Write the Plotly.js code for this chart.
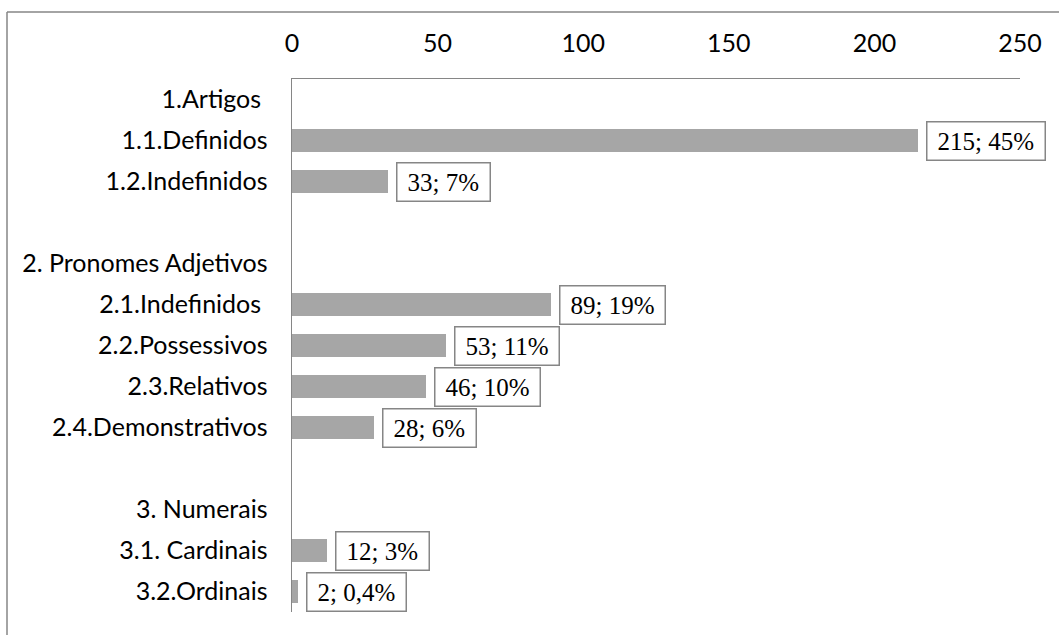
<!DOCTYPE html>
<html>
<head>
<meta charset="utf-8">
<script src="https://cdn.plot.ly/plotly-3.0.1.min.js"></script>
<style>
  html, body { margin: 0; padding: 0; background: #fff; }
  #chart { width: 1059px; height: 635px; }
</style>
</head>
<body>
<div id="chart"></div>
<script>
// Row labels, top to bottom (blank rows separate the groups)
const categories = [
  "1.Artigos\u00a0",
  "1.1.Definidos",
  "1.2.Indefinidos",
  "",
  "2. Pronomes Adjetivos",
  "2.1.Indefinidos\u00a0",
  "2.2.Possessivos",
  "2.3.Relativos",
  "2.4.Demonstrativos",
  "",
  "3. Numerais",
  "3.1. Cardinais",
  "3.2.Ordinais"
];
// Occurrences per row (null = heading / spacer row)
const counts = [null, 215, 33, null, null, 89, 53, 46, 28, null, null, 12, 2];
// Share of the total per row
const percents = [null, "45%", "7%", null, null, "19%", "11%", "10%", "6%", null, null, "3%", "0,4%"];
// Value axis ticks
const xTicks = [0, 50, 100, 150, 200, 250];

const rowIdx = categories.map((_, i) => i);
const gray = "#868686";

const trace = {
  type: "bar",
  orientation: "h",
  x: counts,
  y: rowIdx,
  width: 0.56,
  marker: { color: "#a6a6a6" },
  hoverinfo: "skip"
};

const annotations = [];
rowIdx.forEach(i => {
  if (counts[i] === null) return;
  annotations.push({
    x: counts[i], y: i, xref: "x", yref: "y",
    text: "\u2009" + counts[i] + "; " + percents[i] + "\u2009",
    showarrow: false,
    xanchor: "left", yanchor: "middle",
    xshift: 8,
    bgcolor: "#ffffff",
    bordercolor: gray,
    borderwidth: 1.5,
    borderpad: 5,
    font: { family: "Liberation Serif", size: 25, color: "#000" }
  });
});

// Outer frame (left and top edges)
const L = 292, R = 39, T = 79, B = 23, W = 1059, H = 635;
const pw = W - L - R, ph = H - T - B;
const px = v => (v - L) / pw;
const py = v => (H - B - v) / ph;
const shapes = [
  { type: "line", xref: "paper", yref: "paper", x0: px(7), x1: px(7), y0: py(12), y1: py(640), line: { color: gray, width: 1.5 } },
  { type: "line", xref: "paper", yref: "paper", x0: px(7), x1: px(1065), y0: py(12), y1: py(12), line: { color: gray, width: 1.5 } }
];

const labelFont = { family: "Lato", size: 25, color: "#000" };

const layout = {
  width: W, height: H,
  margin: { l: L, r: R, t: T, b: B, pad: 0 },
  paper_bgcolor: "#fff",
  plot_bgcolor: "#fff",
  showlegend: false,
  bargap: 0,
  xaxis: {
    side: "top",
    range: [0, 250],
    tickvals: xTicks,
    ticktext: xTicks.map(String),
    showgrid: false,
    zeroline: false,
    showline: true,
    linecolor: gray,
    linewidth: 1.5,
    ticks: "",
    ticklabelstandoff: 16,
    tickfont: labelFont,
    fixedrange: true
  },
  yaxis: {
    range: [categories.length - 0.5, -0.5],
    tickvals: rowIdx,
    ticktext: categories,
    showgrid: false,
    zeroline: false,
    showline: true,
    linecolor: gray,
    linewidth: 1.5,
    ticks: "",
    ticklabelstandoff: 18,
    tickfont: labelFont,
    fixedrange: true
  },
  annotations: annotations,
  shapes: shapes
};

Plotly.newPlot("chart", [trace], layout, { displayModeBar: false, staticPlot: true });
</script>
</body>
</html>
